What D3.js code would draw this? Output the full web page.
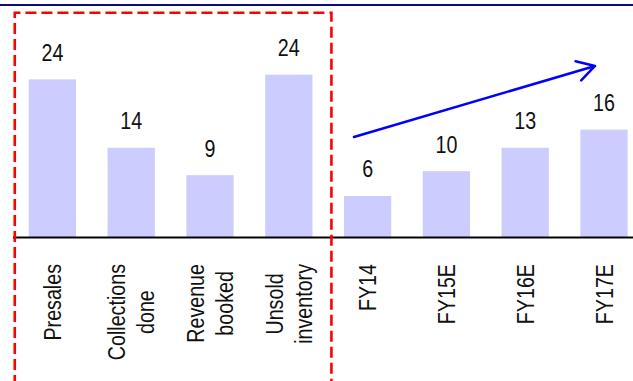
<!DOCTYPE html>
<html>
<head>
<meta charset="utf-8">
<script src="https://cdn.jsdelivr.net/npm/d3@7"></script>
<style>
  html, body { margin: 0; padding: 0; background: #fff; }
  svg { display: block; }
  text { font-family: "Liberation Sans", Arial, sans-serif; fill: #111; }
</style>
</head>
<body>
<svg id="chart" width="633" height="381"></svg>
<script>
// ---- data ----
const categories = ["Presales", "Collections done", "Revenue booked", "Unsold inventory", "FY14", "FY15E", "FY16E", "FY17E"];
const categoryLines = [["Presales"], ["Collections", "done"], ["Revenue", "booked"], ["Unsold", "inventory"], ["FY14"], ["FY15E"], ["FY16E"], ["FY17E"]];
const values = [23.6, 13.4, 9.3, 24.3, 6.2, 9.9, 13.4, 16.1];
const valueLabels = ["24", "14", "9", "24", "6", "10", "13", "16"];
const highlighted = ["Presales", "Collections done", "Revenue booked", "Unsold inventory"];
const trendFrom = { cat: "FY14", value: 15 };
const trendTo = { cat: "FY17E", value: 25.6 };

// ---- layout ----
const W = 633, H = 381;
const axisY = 237.5;
const narrow = 0.82; // condensed face emulation
const svg = d3.select("#chart");

const x = d3.scaleBand()
  .domain(categories)
  .range([13, 643.4])
  .paddingInner(0.4)
  .paddingOuter(0.2);

const y = d3.scaleLinear()
  .domain([0, 30])
  .range([axisY, axisY - 201]);

// title rule
svg.append("line")
  .attr("x1", 0).attr("x2", W)
  .attr("y1", 5).attr("y2", 5)
  .attr("stroke", "#0a0a80").attr("stroke-width", 2);

// bars
svg.append("g").selectAll("rect")
  .data(categories)
  .join("rect")
  .attr("x", d => x(d))
  .attr("width", x.bandwidth())
  .attr("y", (d, i) => y(values[i]))
  .attr("height", (d, i) => y(0) - y(values[i]))
  .attr("fill", "#ccccff");

// value labels
svg.append("g").selectAll("text")
  .data(categories)
  .join("text")
  .attr("transform", (d, i) => `translate(${x(d) + x.bandwidth() / 2},${y(values[i]) - 18.5}) scale(${narrow},1)`)
  .attr("text-anchor", "middle")
  .attr("font-size", 24)
  .text((d, i) => valueLabels[i]);

// category axis line
svg.append("line")
  .attr("x1", 13).attr("x2", W)
  .attr("y1", axisY).attr("y2", axisY)
  .attr("stroke", "#000").attr("stroke-width", 2);

// rotated category labels
const labelTop = 264;
const lineGap = 29;
const lg = svg.append("g").selectAll("g")
  .data(categories)
  .join("g")
  .attr("transform", d => `translate(${x(d) + x.bandwidth() / 2},${labelTop}) rotate(-90) scale(${narrow},1)`);

lg.each(function (d, i) {
  const g = d3.select(this);
  const lines = categoryLines[i];
  const n = lines.length;
  const texts = g.selectAll("text")
    .data(lines)
    .join("text")
    .attr("font-size", 24)
    .attr("text-anchor", "middle")
    .attr("y", (t, j) => (j - (n - 1) / 2) * lineGap + 8.5)
    .text(t => t);
  let maxLen = 0;
  texts.each(function () { maxLen = Math.max(maxLen, this.getComputedTextLength()); });
  texts.attr("x", -maxLen / 2);
});

// red dashed highlight box
const boxLeft = x(highlighted[0]) - 14;
const boxRight = x(highlighted[highlighted.length - 1]) + x.bandwidth() + 19;
svg.append("path")
  .attr("d", `M${boxLeft},${H + 5} V12.7 H${boxRight} V${H + 5}`)
  .attr("fill", "none")
  .attr("stroke", "#ff0000")
  .attr("stroke-width", 2.6)
  .attr("stroke-dasharray", "11,5");

// trend arrow
const ax1 = x(trendFrom.cat) + 10, ay1 = y(trendFrom.value);
const ax2 = x(trendTo.cat) + x.bandwidth() / 2 - 9, ay2 = y(trendTo.value);
const ang = Math.atan2(ay2 - ay1, ax2 - ax1);
const headLen = 20, headAng = Math.PI / 6;
const h1 = [ax2 - headLen * Math.cos(ang - headAng), ay2 - headLen * Math.sin(ang - headAng)];
const h2 = [ax2 - headLen * Math.cos(ang + headAng), ay2 - headLen * Math.sin(ang + headAng)];
svg.append("path")
  .attr("d", `M${ax1},${ay1} L${ax2},${ay2} M${h1[0]},${h1[1]} L${ax2},${ay2} L${h2[0]},${h2[1]}`)
  .attr("fill", "none")
  .attr("stroke", "#0000ff")
  .attr("stroke-width", 2.5)
  .attr("stroke-linecap", "round")
  .attr("stroke-linejoin", "round");
</script>
</body>
</html>
